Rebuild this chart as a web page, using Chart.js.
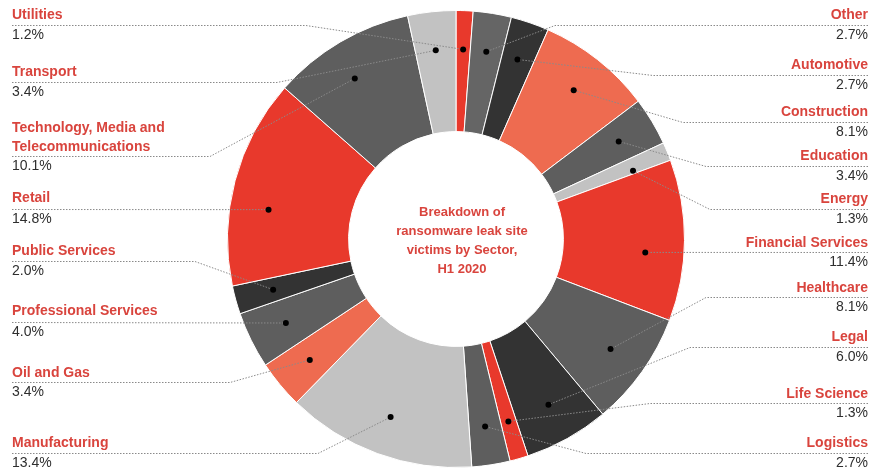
<!DOCTYPE html>
<html>
<head>
<meta charset="utf-8">
<script src="https://cdn.jsdelivr.net/npm/chart.js@4"></script>
<style>
    body { margin: 0; background: #fff; }
    #sector-chart { display: block; }
</style>
</head>
<body>
<canvas id="sector-chart" width="873" height="470"></canvas>
<script>
// sectors, clockwise from 12 o'clock
var sectors = ['Utilities', 'Other', 'Automotive', 'Construction', 'Education', 'Energy',
    'Financial Services', 'Healthcare', 'Legal', 'Life Science', 'Logistics', 'Manufacturing',
    'Oil and Gas', 'Professional Services', 'Public Services', 'Retail',
    ['Technology, Media and', 'Telecommunications'], 'Transport'];
var shares = [1.2, 2.7, 2.7, 8.1, 3.4, 1.3, 11.4, 8.1, 6.0, 1.3, 2.7, 13.4, 3.4, 4.0, 2.0, 14.8, 10.1, 3.4];
var centerTitle = ['Breakdown of', 'ransomware leak site', 'victims by Sector,', 'H1 2020'];

var RED = '#e8392c', SALMON = '#ee6b50', DARK = '#333333', MID = '#5e5e5e', LIGHT = '#c2c2c2';
var sliceColors = [RED, '#656565', DARK, SALMON, MID, LIGHT, RED, MID, DARK, RED, MID, LIGHT,
    SALMON, MID, DARK, RED, MID, LIGHT];

// label placement: side, name y, underline y, elbow x (null = straight to dot)
var labelPos = [
    ['L', 15, 25, 306], ['R', 15, 25, 555], ['R', 65, 75, 653], ['R', 112, 122, 683],
    ['R', 156, 166, 706], ['R', 199, 209, 710], ['R', 243, 252, null], ['R', 288, 297, 706],
    ['R', 337, 347, 690], ['R', 394, 403, 650], ['R', 443, 453, 586], ['L', 443, 453, 318],
    ['L', 373, 382, 230], ['L', 311, 322, null], ['L', 251, 261, 195], ['L', 198, 209, null],
    ['L', 128, 156, 210], ['L', 72, 82, 277]
];
// where the dot sits inside its slice (fraction of the angle)
var dotAt = [0.5, 0.5, 0.5, 0.5, 0.5, 0.8, 0.59, 0.5, 0.5, 0.5, 0.5, 0.5,
    0.5, 0.5, 0.5, 0.39, 0.45, 0.5];

var calloutPlugin = {
    id: 'callouts',
    afterDatasetsDraw: function(chart) {
        var ctx = chart.ctx;
        var meta = chart.getDatasetMeta(0);
        var dots = [];
        meta.data.forEach(function(arc, i) {
            var p = arc.getProps(['x', 'y', 'startAngle', 'endAngle', 'innerRadius', 'outerRadius'], true);
            var a = p.startAngle + (p.endAngle - p.startAngle) * dotAt[i];
            var r = p.innerRadius + 0.68 * (p.outerRadius - p.innerRadius);
            dots.push([p.x + Math.cos(a) * r, p.y + Math.sin(a) * r]);
        });

        ctx.save();
        // leader lines
        ctx.strokeStyle = '#8a8a8a';
        ctx.lineWidth = 1;
        ctx.setLineDash([1.5, 1.5]);
        labelPos.forEach(function(lp, i) {
            var startX = lp[0] == 'L' ? 12 : 868;
            var lineY = lp[2] + 0.5;
            ctx.beginPath();
            ctx.moveTo(startX, lineY);
            if (lp[3] !== null) {
                ctx.lineTo(lp[3], lineY);
            }
            ctx.lineTo(dots[i][0], dots[i][1]);
            ctx.stroke();
        });
        ctx.setLineDash([]);

        // dots
        ctx.fillStyle = '#000';
        dots.forEach(function(d) {
            ctx.beginPath();
            ctx.arc(d[0], d[1], 3, 0, Math.PI * 2);
            ctx.fill();
        });

        // labels
        ctx.textBaseline = 'middle';
        labelPos.forEach(function(lp, i) {
            var left = lp[0] == 'L';
            var x = left ? 12 : 868;
            ctx.textAlign = left ? 'left' : 'right';
            var name = chart.data.labels[i];
            var lines = Array.isArray(name) ? name : [name];
            ctx.font = 'bold 14px "Liberation Sans", Arial, sans-serif';
            ctx.fillStyle = '#d9443d';
            lines.forEach(function(t, k) {
                ctx.fillText(t, x, lp[1] + k * 19);
            });
            ctx.font = '14px "Liberation Sans", Arial, sans-serif';
            ctx.fillStyle = '#2e2e2e';
            ctx.fillText(shares[i].toFixed(1) + '%', x, lp[2] + 10);
        });

        // center title
        var c = meta.data[0].getProps(['x', 'y'], true);
        ctx.textAlign = 'center';
        ctx.font = 'bold 13px "Liberation Sans", Arial, sans-serif';
        ctx.fillStyle = '#d9443d';
        centerTitle.forEach(function(t, k) {
            ctx.fillText(t, c.x + 6, c.y - 27 + k * 19);
        });
        ctx.restore();
    }
};

var ctx = document.getElementById('sector-chart');
var sectorChart = new Chart(ctx, {
    type: 'doughnut',
    data: {
        labels: sectors,
        datasets: [{
            data: shares,
            backgroundColor: sliceColors,
            borderColor: '#ffffff',
            borderWidth: 1
        }]
    },
    options: {
        responsive: false,
        animation: false,
        cutout: '47%',
        rotation: 0,
        layout: { padding: { left: 39, right: 0, top: 10, bottom: 2 } },
        plugins: {
            legend: { display: false },
            tooltip: { enabled: false }
        }
    },
    plugins: [calloutPlugin]
});
</script>
</body>
</html>
